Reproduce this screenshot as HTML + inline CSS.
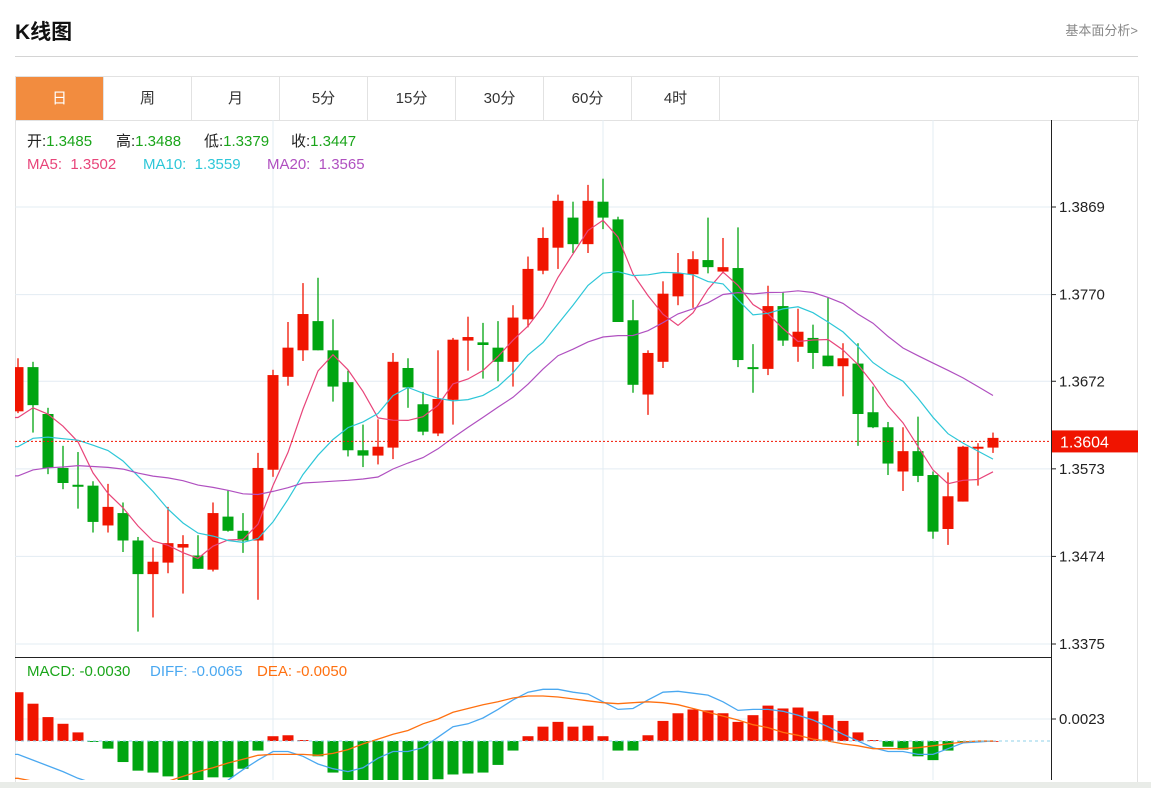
<!DOCTYPE html>
<html><head><meta charset="utf-8">
<style>
body{margin:0;width:1151px;height:788px;overflow:hidden;background:#fff;font-family:"Liberation Sans","Noto Sans CJK SC",sans-serif;position:relative}
.title{position:absolute;left:15px;top:16px;font-size:21px;font-weight:bold;color:#111}
.more{position:absolute;right:13px;top:20px;font-size:13px;color:#888}
.hr{position:absolute;left:15px;top:56px;width:1123px;height:1px;background:#d4d4d4}
.tabs{position:absolute;left:15px;top:76px;width:1122px;height:43px;border:1px solid #e2e2e2;display:flex}
.tab{width:87px;border-right:1px solid #e2e2e2;font-size:15px;color:#333;text-align:center;line-height:43px}
.tab.on{background:#f28c3f;color:#fff}
svg{position:absolute;left:0;top:0}
.foot{position:absolute;left:0;top:782px;width:1151px;height:6px;background:#e9ece8}
</style></head><body>
<div class="title">K线图</div>
<div class="more">基本面分析&gt;</div>
<div class="hr"></div>
<div class="tabs">
<div class="tab on">日</div>
<div class="tab">周</div>
<div class="tab">月</div>
<div class="tab">5分</div>
<div class="tab">15分</div>
<div class="tab">30分</div>
<div class="tab">60分</div>
<div class="tab">4时</div>
</div>
<svg id="chart" width="1151" height="788"></svg>
<div class="foot"></div>
<script>
const opens=[1.3638,1.3688,1.3635,1.3574,1.3555,1.3554,1.3509,1.3523,1.3492,1.3454,1.3467,1.3484,1.3475,1.3459,1.3519,1.3503,1.3492,1.3572,1.3677,1.3707,1.3740,1.3707,1.3671,1.3594,1.3588,1.3597,1.3687,1.3646,1.3613,1.3651,1.3718,1.3716,1.3710,1.3694,1.3742,1.3797,1.3823,1.3857,1.3827,1.3875,1.3855,1.3741,1.3657,1.3694,1.3768,1.3793,1.3809,1.3796,1.3800,1.3688,1.3686,1.3757,1.3711,1.3721,1.3701,1.3689,1.3692,1.3637,1.3620,1.3570,1.3593,1.3566,1.3505,1.3536,1.3596,1.3597];
const highs=[1.3698,1.3694,1.3642,1.3599,1.3592,1.3559,1.3556,1.3535,1.3496,1.3484,1.3530,1.3498,1.3498,1.3535,1.3549,1.3523,1.3591,1.3685,1.3739,1.3783,1.3789,1.3742,1.3684,1.3623,1.3629,1.3704,1.3698,1.3660,1.3707,1.3721,1.3745,1.3738,1.3740,1.3758,1.3813,1.3846,1.3883,1.3875,1.3894,1.3901,1.3858,1.3764,1.3707,1.3785,1.3817,1.3819,1.3857,1.3834,1.3846,1.3714,1.3780,1.3773,1.3754,1.3736,1.3767,1.3715,1.3715,1.3666,1.3626,1.3620,1.3632,1.3570,1.3569,1.3599,1.3602,1.3614];
const lows=[1.3636,1.3614,1.3567,1.3550,1.3528,1.3501,1.3501,1.3479,1.3389,1.3405,1.3455,1.3432,1.3460,1.3457,1.3502,1.3478,1.3425,1.3564,1.3667,1.3695,1.3707,1.3649,1.3587,1.3575,1.3578,1.3584,1.3642,1.3611,1.3610,1.3623,1.3684,1.3675,1.3672,1.3666,1.3733,1.3793,1.3799,1.3817,1.3817,1.3844,1.3739,1.3659,1.3634,1.3687,1.3758,1.3755,1.3794,1.3794,1.3688,1.3659,1.3679,1.3712,1.3694,1.3686,1.3689,1.3655,1.3599,1.3619,1.3566,1.3548,1.3558,1.3494,1.3487,1.3536,1.3554,1.3591];
const closes=[1.3688,1.3645,1.3574,1.3557,1.3553,1.3513,1.3530,1.3492,1.3454,1.3468,1.3489,1.3488,1.3460,1.3523,1.3503,1.3492,1.3574,1.3679,1.3710,1.3748,1.3707,1.3666,1.3594,1.3588,1.3598,1.3694,1.3665,1.3615,1.3652,1.3719,1.3722,1.3713,1.3694,1.3744,1.3799,1.3834,1.3876,1.3827,1.3876,1.3857,1.3739,1.3668,1.3704,1.3771,1.3794,1.3810,1.3801,1.3801,1.3696,1.3686,1.3757,1.3718,1.3728,1.3704,1.3689,1.3698,1.3635,1.3620,1.3579,1.3593,1.3565,1.3502,1.3542,1.3598,1.3598,1.3608];
const prevCloses=[1.3510,1.3525,1.3540,1.3520,1.3535,1.3550,1.3530,1.3545,1.3535,1.3530,1.3550,1.3560,1.3575,1.3570,1.3570,1.3590,1.3610,1.3625,1.3642];
const macdBars=[51,39,25,18,9,-1,-8,-22,-31,-33,-37,-42,-44,-38,-38,-29,-10,5,6,1,-16,-33,-45,-48,-46,-44,-43,-41,-40,-35,-34,-33,-25,-10,5,15,20,15,16,5,-10,-10,6,21,29,33,32,29,20,27,37,34,35,31,27,21,9,1,-6,-9,-16,-20,-10,-1,0,0];
const diffVals=[-14,-20,-26,-32,-39,-44,-48,-52,-55,-57,-57,-56,-54,-51,-41,-30,-20,-11,-11,-16,-24,-29,-32,-28,-18,-11,-11,-7,4,15,18,24,33,43,51,54,54,51,49,41,33,34,43,51,52,50,48,41,32,33,33,31,27,22,15,7,0,-7,-11,-11,-14,-14,-8,-2,-1,0];
const deaVals=[-39,-42,-45,-47,-49,-50,-51,-51,-50,-48,-42,-37,-32,-28,-23,-19,-15,-14,-14,-14,-15,-13,-9,-3,2,7,11,18,23,30,34,38,41,45,47,47,46,44,42,40,39,40,41,40,38,34,30,26,22,17,14,9,6,2,0,-3,-5,-8,-8,-8,-7,-5,-3,-1,0,0];
const priceTicks=[1.3869,1.3770,1.3672,1.3573,1.3474,1.3375];
const macdTicks=[0.0023];
const lastPrice=1.3604;

const NS='http://www.w3.org/2000/svg';
const svg=document.getElementById('chart');
function mk(tag,attrs,parent){const e=document.createElementNS(NS,tag);for(const k in attrs)e.setAttribute(k,attrs[k]);(parent||svg).appendChild(e);return e;}
const L=15,R=1051,PT=120,PB=657,MB=780;
const xOf=i=>18+15*i;
const yP=p=>207+(1.3869-p)*8846;
const yM=v=>741-v*9565;
const RED='#f01400',GREEN='#00a511';

let e=mk('rect',{x:15.5,y:120.5,width:1122,height:670,fill:'none',stroke:'#e2e2e2'});


priceTicks.forEach(t=>{const g=mk('line',{x1:L,x2:R,y1:yP(t),y2:yP(t),stroke:'#e3ecf3'});


const tk=mk('line',{x1:R,x2:R+5,y1:yP(t),y2:yP(t),stroke:'#222'});


const tx=mk('text',{x:1059,y:yP(t)+5,'font-size':15,fill:'#222'});tx.textContent=t.toFixed(4);

});
[273,603,933].forEach(x=>{const g=mk('line',{x1:x,x2:x,y1:PT,y2:MB,stroke:'#e3ecf3'});

});
macdTicks.forEach(t=>{const g=mk('line',{x1:L,x2:R,y1:yM(t),y2:yM(t),stroke:'#e3ecf3'});


const tk=mk('line',{x1:R,x2:R+5,y1:yM(t),y2:yM(t),stroke:'#222'});


const tx=mk('text',{x:1059,y:yM(t)+5,'font-size':15,fill:'#222'});tx.textContent=t.toFixed(4);

});
const defs=mk('defs',{});
const c1=mk('clipPath',{id:'cp'},defs);mk('rect',{x:L,y:PT,width:R-L,height:PB-PT},c1);
const c2=mk('clipPath',{id:'cm'},defs);mk('rect',{x:L,y:PB,width:R-L,height:MB-PB},c2);
const gp=mk('g',{'clip-path':'url(#cp)'});


const gm=mk('g',{'clip-path':'url(#cm)'});


for(let i=0;i<closes.length;i++){
 const up=closes[i]>=opens[i];const col=up?RED:GREEN;const x=xOf(i);
 const w=mk('line',{x1:x,x2:x,y1:yP(highs[i]),y2:yP(lows[i]),stroke:col,'stroke-width':1.3},gp);
 
 
 const top=yP(Math.max(opens[i],closes[i])),bot=yP(Math.min(opens[i],closes[i]));
 const b=mk('rect',{x:x-5.5,y:top,width:11,height:Math.max(2,bot-top),fill:col},gp);
 
 
}
const all=prevCloses.concat(closes);
function ma(n){return closes.map((c,i)=>{const j=i+prevCloses.length;let s=0;for(let k=j-n+1;k<=j;k++)s+=all[k];return s/n;});}
[[5,'#e8457a','ma5-line'],[10,'#2ec7d8','ma10-line'],[20,'#b050c0','ma20-line']].forEach(([n,col,name])=>{
 const v=ma(n);const d=v.map((p,i)=>(i?'L':'M')+xOf(i)+','+yP(p).toFixed(1)).join('');
 const pth=mk('path',{d:'M'+L+','+yP(v[0]).toFixed(1)+d.replace('M','L'),fill:'none',stroke:col,'stroke-width':1.2},gp);
 
 
});
const lp=mk('line',{x1:L,x2:R,y1:yP(lastPrice),y2:yP(lastPrice),stroke:'#f01400','stroke-dasharray':'2,2'});


const lb=mk('rect',{x:R+1,y:yP(lastPrice)-11,width:86,height:22,fill:'#f01400'});


const lt=mk('text',{x:1060,y:yP(lastPrice)+6,'font-size':16,fill:'#fff'});lt.textContent=lastPrice.toFixed(4);


const zl=mk('line',{x1:L,x2:R,y1:yM(0),y2:yM(0),stroke:'#8fd0ea','stroke-dasharray':'3,3'});


macdBars.forEach((v,i)=>{const val=v/10000;const y0=yM(0),y1=yM(val);
 const r=mk('rect',{x:xOf(i)-5.5,y:Math.min(y0,y1),width:11,height:Math.max(0.8,Math.abs(y1-y0)),fill:v>=0?RED:GREEN},gm);
 
 });
[[diffVals,'#4aa8f0','diff-line'],[deaVals,'#ff7010','dea-line']].forEach(([arr,col,name])=>{
 const d=arr.map((v,i)=>(i?'L':'M')+xOf(i)+','+yM(v/10000).toFixed(1)).join('');
 const pth=mk('path',{d:'M'+L+','+yM(arr[0]/10000).toFixed(1)+d.replace('M','L'),fill:'none',stroke:col,'stroke-width':1.3},gm);
 
 });
const ax=mk('line',{x1:R+0.5,x2:R+0.5,y1:PT,y2:MB,stroke:'#222'});


const sep=mk('line',{x1:L,x2:R,y1:PB+0.5,y2:PB+0.5,stroke:'#222'});


function leg(x,y,parts,name){const t=mk('text',{x:x,y:y,'font-size':15});
 
 
 parts.forEach(([s,c])=>{const ts=mk('tspan',{fill:c},t);ts.textContent=s;});}
leg(27,146,[['开:','#222'],['1.3485','#1aa51a']],'legend-open');
leg(116,146,[['高:','#222'],['1.3488','#1aa51a']],'legend-high');
leg(204,146,[['低:','#222'],['1.3379','#1aa51a']],'legend-low');
leg(291,146,[['收:','#222'],['1.3447','#1aa51a']],'legend-close');
leg(27,169,[['MA5:  1.3502','#e8457a']],'legend-ma5');
svg.lastChild.style.whiteSpace='pre';
leg(143,169,[['MA10:  1.3559','#2ec7d8']],'legend-ma10');
svg.lastChild.style.whiteSpace='pre';
leg(267,169,[['MA20:  1.3565','#b050c0']],'legend-ma20');
svg.lastChild.style.whiteSpace='pre';
leg(27,676,[['MACD: -0.0030','#1aa51a']],'legend-macd');
leg(150,676,[['DIFF: -0.0065','#4aa8f0']],'legend-diff');
leg(257,676,[['DEA: -0.0050','#ff7010']],'legend-dea');
</script>
</body></html>
